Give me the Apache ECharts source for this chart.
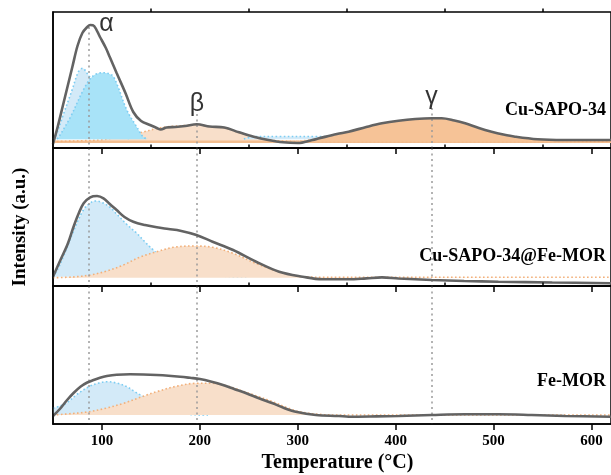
<!DOCTYPE html>
<html><head><meta charset="utf-8">
<script src="https://cdn.jsdelivr.net/npm/echarts@6/dist/echarts.min.js"></script>
<style>html,body{margin:0;padding:0;background:#fff}#c{width:611px;height:475px}</style>
</head><body><div id="c"></div>
<script>
// ---------- data (temperature °C, intensity a.u.) ----------
const xTicks = [100, 200, 300, 400, 500, 600];
const xMinorTicks = [150, 250, 350, 450, 550];
const panelNames = ['Cu-SAPO-34', 'Cu-SAPO-34@Fe-MOR', 'Fe-MOR'];
const peakT = [87, 197, 437];
const peakLabels = ['α', 'β', 'γ'];
const peakLabelT = [104.5, 197, 436.7];
const peakLabelV = [124, 44, 51];
const peakLineTopP1 = [121, 34, 40];

// Panel 1: Cu-SAPO-34
const cuSapoTotal = [[50,4],[55,22],[60,42],[65,62],[70,82],[75,102],[80,115],[85,121],[88,123],[92,122],[98,111],[104,100],[108,91],[115,75],[124,55],[132,36],[140,27],[149,23],[156,20],[160,18.5],[166,20.5],[175,21],[185,22],[197,23.7],[210,21.5],[225,20.5],[240,15.7],[255,11.3],[270,8],[285,5.7],[300,5],[315,8],[322,9.7],[340,14],[352,16.3],[370,21],[386,24.7],[403,27.3],[420,29],[437,29.7],[447,29.7],[460,27.5],[471,24.7],[485,20],[498,16.3],[510,13.5],[522,11.3],[545,8.7],[572,8],[620,8]];
const cuSapoAlpha1 = [[50,9],[52.5,11.3],[61,34.7],[69.5,58],[76,76.3],[80.3,79.7],[84.8,74.7],[88.2,69.7],[95,52],[102,35],[110,20],[120,12],[130,9]];
const cuSapoAlpha2 = [[54,9],[56,11],[68,31.3],[81,58],[90,71.3],[100,75.3],[110,73],[115,64.7],[125.4,38],[135.6,21],[142.3,11],[147,9]];
const cuSapoBeta = [[50,6.5],[97,8],[115,10.5],[130,13.5],[140,15.5],[156,19.5],[170,21.5],[185,22.5],[197,23],[210,21.5],[225,20],[240,15.5],[255,11],[270,8],[285,7],[300,6.5],[620,6.5]];
const cuSapoTail = [[245,9],[255,11.3],[280,11.5],[320,11.5],[340,11],[348,9]];
const cuSapoGamma = [[290,6.5],[300,6.8],[322,9.5],[352,16],[386,24.5],[403,27],[420,28.8],[437,29.5],[447,29.5],[460,27.3],[471,24.5],[485,19.8],[498,16],[510,13.3],[522,11],[545,8.5],[572,7.8],[620,7.8]];
const cuSapoBase = [[50,6.3],[620,6.3]];

// Panel 2: Cu-SAPO-34@Fe-MOR
const compTotal = [[50,9.3],[57.6,26],[65,42],[71,59.3],[76,72],[81.3,82.7],[88,88.7],[95,90],[101.6,87.7],[108,82],[115,76],[123,69],[132,64.3],[144,61],[156,58.7],[168,57],[180,55.3],[196.5,51],[213,44.3],[234,36],[257.5,24.3],[281,14.3],[305,9.3],[325,6.7],[342,6.7],[352,6.7],[370,7.6],[386,8.6],[403,7.5],[437,6],[470,5],[505,4.3],[560,3.5],[620,2.7]];
const compAlpha = [[50,9.3],[55,17],[60,28],[71,55],[81,76],[88,83],[93.5,85],[100,83.5],[108,79],[115,72],[125,62],[135.6,52.7],[144,44],[152.5,36],[162,28],[175,20],[190,14],[210,11],[230,9.5],[250,9.3]];
const compBeta = [[50,8.3],[70,9],[88,11],[105,15],[122,21],[139,29],[156,34.3],[173,38.7],[193,40],[213,38.7],[234,32.7],[257,22.7],[281,14.3],[305,9.3],[330,8.7],[620,8.7]];

// Panel 3: Fe-MOR
const feTotal = [[50,8],[57,15],[64.4,24],[71,31],[78,37.3],[85,41.5],[91.5,44],[98,46.3],[105,48],[115,49.3],[128.8,49.7],[142,49.5],[156,49],[168,48.3],[180,47.3],[190,46.2],[200,45],[212,42.3],[223.6,39],[235,35],[247.4,30.7],[261,25.5],[274.4,20.7],[286,16],[298,12.3],[318.5,9],[342,8],[352,7.3],[380,7.6],[403,8],[437,9],[471,9.7],[505,9.7],[539,9],[573,8],[620,7.3]];
const feAlpha = [[50,15.7],[57,18],[64,21],[75,30],[88,38],[97,41],[105,42.3],[115,41],[125.4,37.3],[134,32],[142.3,27.3],[150,22],[160,17],[175,12],[190,9.5],[210,9]];
const feBeta = [[50,9],[70,10.5],[87,12.3],[105,16],[122,20.7],[140,27],[156,32.3],[175,37.5],[196.5,40.7],[213,40.7],[228,38],[240.5,34],[258,28],[274.4,22.3],[290,16],[301.5,12.3],[320,9.8],[340,9],[620,9]];

// ---------- chart ----------
const chart = echarts.init(document.getElementById('c'), null, {renderer: 'canvas'});
const gridDefs = [{top: 12, height: 136}, {top: 148, height: 138}, {top: 286, height: 138}];
const yMax = [136, 138, 138];
const serifBold = '"Liberation Serif", "Times New Roman", serif';

const LIGHT_BLUE = '#d3eaf8', CYAN = '#a8e3f8', BLUE_DOT = '#7dcdf2';
const PEACH = '#f8dfca', ORANGE = '#f6c397', ORANGE_DOT = '#f2b07a';

const grid = gridDefs.map(g => ({left: 53, width: 561, top: g.top, height: g.height,
  show: true, borderColor: '#000', borderWidth: 1.5, backgroundColor: 'transparent'}));

const xAxis = [];
const yAxis = [];
for (let i = 0; i < 3; i++) {
  xAxis.push({type: 'value', gridIndex: i, min: 50, max: 620, z: 10,
    axisLine: {show: true, lineStyle: {color: '#000', width: 1.5}},
    axisTick: {show: true, customValues: xTicks, length: 6, lineStyle: {color: '#000', width: 1.5}},
    axisLabel: {show: i === 2, customValues: xTicks, margin: 10, color: '#000',
      fontFamily: serifBold, fontWeight: 'bold', fontSize: 15},
    splitLine: {show: false}});
  xAxis.push({type: 'value', gridIndex: i, min: 50, max: 620, z: 10,
    axisLine: {show: false},
    axisTick: {show: true, customValues: xMinorTicks, length: 3.5, lineStyle: {color: '#000', width: 1.5}},
    axisLabel: {show: false}, splitLine: {show: false}});
  yAxis.push({type: 'value', gridIndex: i, min: 0, max: yMax[i], z: 10,
    axisLine: {show: true, lineStyle: {color: '#000', width: 1.5}},
    axisTick: {show: false}, axisLabel: {show: false}, splitLine: {show: false}});
}

function area(data, gi, fill, border, origin, z) {
  return {type: 'line', xAxisIndex: gi * 2, yAxisIndex: gi, data, smooth: 0.35,
    symbol: 'none', silent: true, z,
    lineStyle: {color: border, width: 1.6, type: [1.6, 2.4]},
    areaStyle: {color: fill, opacity: 1, origin}};
}
function total(data, gi, tops) {
  return {type: 'line', xAxisIndex: gi * 2, yAxisIndex: gi, data, smooth: 0.35,
    symbol: 'none', silent: true, z: 6,
    lineStyle: {color: '#636363', width: 2.6},
    markLine: {silent: true, symbol: ['none', 'none'], label: {show: false}, animation: false,
      lineStyle: {color: '#9a9a9a', width: 1.5, type: [2, 3.5]},
      data: peakT.map((t, k) => [{coord: [t, tops[k]]}, {coord: [t, 0]}])}};
}

const series = [
  {type: 'line', xAxisIndex: 0, yAxisIndex: 0, data: cuSapoBase, symbol: 'none', silent: true, z: 2,
    lineStyle: {color: '#f3be90', width: 2.5}},
  area(cuSapoBeta, 0, PEACH, ORANGE_DOT, 6.3, 2),
  area(cuSapoTail, 0, LIGHT_BLUE, BLUE_DOT, 8.7, 2),
  area(cuSapoGamma, 0, ORANGE, ORANGE, 6.3, 3),
  area(cuSapoAlpha1, 0, LIGHT_BLUE, BLUE_DOT, 8.7, 3),
  area(cuSapoAlpha2, 0, CYAN, BLUE_DOT, 8.7, 4),
  total(cuSapoTotal, 0, peakLineTopP1),
  area(compBeta, 1, PEACH, ORANGE_DOT, 8.3, 3),
  area(compAlpha, 1, LIGHT_BLUE, BLUE_DOT, 9.3, 2),
  total(compTotal, 1, [yMax[1], yMax[1], yMax[1]]),
  area(feBeta, 2, PEACH, ORANGE_DOT, 9, 3),
  area(feAlpha, 2, LIGHT_BLUE, BLUE_DOT, 9, 2),
  total(feTotal, 2, [yMax[2], yMax[2], yMax[2]]),
  {type: 'scatter', xAxisIndex: 0, yAxisIndex: 0, symbolSize: 0, silent: true, z: 8,
    data: peakLabels.map((g, i) => ({name: g, value: [peakLabelT[i], peakLabelV[i]]})),
    label: {show: true, position: 'inside', formatter: p => p.name, color: '#000',
      fontFamily: '"Liberation Sans", Arial, sans-serif', fontSize: 25, fontWeight: 'normal'}}
];

const panelLabelY = [110, 256.5, 381.5];
const graphic = panelNames.map((n, i) => ({type: 'text', x: 606, y: panelLabelY[i], z: 20,
  style: {text: n, fill: '#000', font: 'bold 18px ' + serifBold,
    textAlign: 'right', textVerticalAlign: 'middle', align: 'right', verticalAlign: 'middle'}}));
graphic.push({type: 'text', x: 337.5, y: 463, z: 20,
  style: {text: 'Temperature (°C)', fill: '#000', font: 'bold 20px ' + serifBold,
    textAlign: 'center', textVerticalAlign: 'middle', align: 'center', verticalAlign: 'middle'}});
graphic.push({type: 'text', x: 20, y: 227, rotation: Math.PI / 2, z: 20,
  style: {text: 'Intensity (a.u.)', fill: '#000', font: 'bold 19px ' + serifBold,
    textAlign: 'center', textVerticalAlign: 'middle', align: 'center', verticalAlign: 'middle'}});

chart.setOption({animation: false, backgroundColor: '#fff', grid, xAxis, yAxis, series, graphic});
</script>
</body></html>
